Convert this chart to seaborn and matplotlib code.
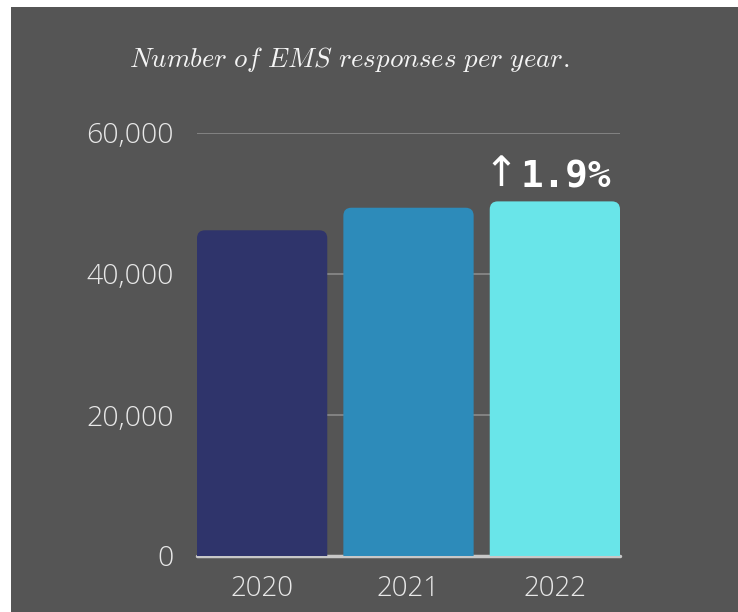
import matplotlib
matplotlib.use("Agg")
import matplotlib.pyplot as plt
import seaborn as sns
import pandas as pd
from matplotlib.patches import FancyBboxPatch, Rectangle

years = ["2020", "2021", "2022"]
responses = [46200, 49400, 50300]
colors = ["#2f346b", "#2d8bba", "#69e5e9"]
yticks = [0, 20000, 40000, 60000]
ytick_labels = ["0", "20,000", "40,000", "60,000"]
title = r"$\mathit{Number\ of\ EMS\ responses\ per\ year.}$"
arrow_label = "↑"
change_label = "1.9%"

sns.set_theme(style="white")
plt.rcParams["mathtext.fontset"] = "cm"
plt.rcParams["font.family"] = ["Open Sans", "DejaVu Sans"]

W, H = 738, 612
fig = plt.figure(figsize=(W / 100, H / 100), dpi=100, facecolor="white")
fig.patches.append(Rectangle((11 / W, 0), 1 - 11 / W, 1 - 7 / H,
                             transform=fig.transFigure, facecolor="#555555",
                             edgecolor="none", zorder=-10))

ax = fig.add_axes([197 / W, 56 / H, 423 / W, 423 / H])
ax.set_zorder(1)
ax.set_facecolor("none")

df = pd.DataFrame({"year": years, "responses": responses})
sns.barplot(data=df, x="year", y="responses", hue="year", palette=colors,
            width=0.89, saturation=1, legend=False, ax=ax, zorder=2)

ax.set_xlim(-0.445, 2.445)
ax.set_ylim(0, 60000)

# rounded top corners (bottom corners pushed below the axis and clipped)
px_x = 2.89 / 423
px_y = 60000 / 423
r = 8 * px_x
aspect = px_y / px_x
ext = 30 * px_y
for p in list(ax.patches):
    x, w, h = p.get_x(), p.get_width(), p.get_height()
    fc = p.get_facecolor()
    p.set_visible(False)
    ax.add_patch(FancyBboxPatch((x, -ext), w, h + ext,
                                boxstyle=f"round,pad=0,rounding_size={r}",
                                mutation_aspect=aspect, facecolor=fc,
                                edgecolor="none", zorder=2))

ax.yaxis.grid(True, color="#8a8a8a", lw=1.2)
ax.xaxis.grid(False)
ax.set_axisbelow(True)
for s in ax.spines.values():
    s.set_visible(False)
ax.axhline(0, color="#c8c8c8", lw=2.5, zorder=1, clip_on=False)

ax.set_yticks(yticks)
ax.set_yticklabels(ytick_labels, fontweight="light")
ax.set_xticks(range(len(years)))
ax.set_xticklabels(years, fontweight="light")
ax.tick_params(axis="both", length=0, labelcolor="#e8e8e8")
ax.tick_params(axis="y", pad=17, labelsize=20.5)
ax.tick_params(axis="x", pad=14, labelsize=20)
ax.set_xlabel("")
ax.set_ylabel("")

fig.text(349 / W, 1 - 59 / H, title, ha="center", va="center",
         fontsize=19.4, color="#f4f4f4")

fig.text(501 / W, 1 - 174 / H, arrow_label, ha="center", va="center",
         fontsize=30, color="white", family=["DejaVu Sans"])
fig.text(521 / W, 1 - 188 / H, change_label, ha="left", va="baseline",
         fontsize=27, color="white", fontweight="bold",
         family=["DejaVu Sans Mono"])

fig.savefig("out.png", dpi=100, facecolor=fig.get_facecolor())
